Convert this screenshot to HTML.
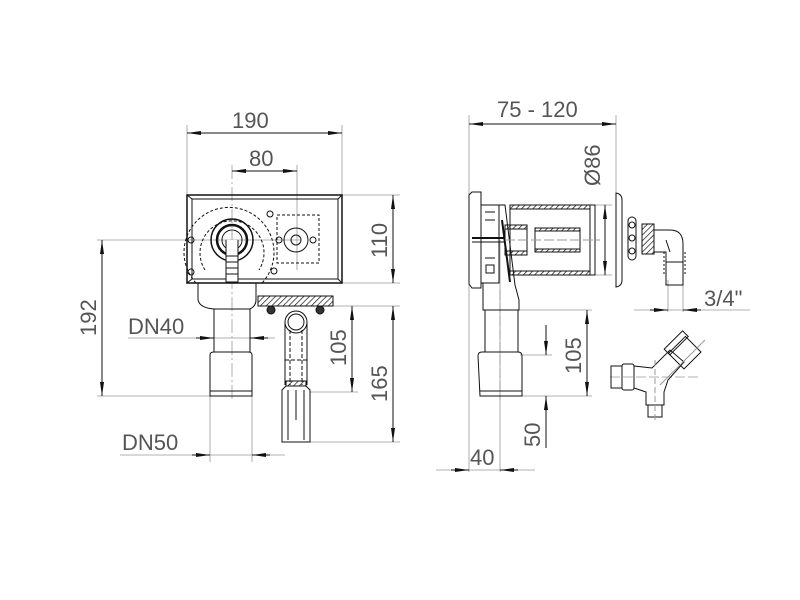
<!DOCTYPE html>
<html><head><meta charset="utf-8"><style>
html,body{margin:0;padding:0;background:#fff;}
svg{display:block;}
text{font-family:"Liberation Sans",sans-serif;fill:#555;font-size:22px;}
</style></head><body>
<svg width="800" height="600" viewBox="0 0 800 600" xmlns="http://www.w3.org/2000/svg">
<defs>
<marker id="a" viewBox="0 0 14 6" refX="14" refY="3" markerWidth="14" markerHeight="6" markerUnits="userSpaceOnUse" orient="auto-start-reverse"><path d="M0,1 L14,3 L0,5 Z" fill="#111"/></marker>
<pattern id="h" width="4" height="4" patternUnits="userSpaceOnUse" patternTransform="rotate(45)"><line x1="0" y1="0" x2="0" y2="4" stroke="#222" stroke-width="1.5"/></pattern>
</defs>
<g stroke="#999" stroke-width="0.8" fill="none">
<!-- left extension lines -->
<line x1="187" y1="125" x2="187" y2="195"/><line x1="342" y1="125" x2="342" y2="195"/>
<line x1="232" y1="165" x2="232" y2="400" stroke-dasharray="14,3,2,3"/><line x1="297" y1="165" x2="297" y2="270"/>
<line x1="342" y1="195" x2="400" y2="195"/><line x1="342" y1="283" x2="400" y2="283"/>
<line x1="97" y1="240" x2="300" y2="240"/><line x1="97" y1="396" x2="212" y2="396"/>
<line x1="128" y1="338" x2="275" y2="338"/><line x1="120" y1="455" x2="285" y2="455"/>
<line x1="210" y1="396" x2="210" y2="462"/><line x1="252" y1="396" x2="252" y2="462"/>
<line x1="333" y1="306" x2="400" y2="306"/><line x1="310" y1="392" x2="358" y2="392"/><line x1="310" y1="442" x2="400" y2="442"/>
<!-- right extension -->
<line x1="469" y1="115" x2="469" y2="472"/><line x1="616" y1="115" x2="616" y2="195"/>
<line x1="500" y1="240" x2="500" y2="472"/>
<line x1="595" y1="205" x2="612" y2="205"/><line x1="595" y1="275" x2="612" y2="275"/>
<line x1="518" y1="310" x2="592" y2="310"/><line x1="520" y1="355" x2="552" y2="355"/><line x1="521" y1="396" x2="592" y2="396"/>
<line x1="436" y1="470" x2="535" y2="470"/>
<line x1="634" y1="310" x2="750" y2="310"/><line x1="668" y1="280" x2="668" y2="312"/><line x1="683" y1="280" x2="683" y2="312"/>
<line x1="610" y1="377" x2="700" y2="377" stroke-dasharray="10,3"/>
</g>
<g stroke="#111" stroke-width="1" fill="none">
<!-- dim lines with arrows -->
<line x1="187" y1="133" x2="342" y2="133" marker-start="url(#a)" marker-end="url(#a)"/>
<line x1="232" y1="171" x2="297" y2="171" marker-start="url(#a)" marker-end="url(#a)"/>
<line x1="393" y1="195" x2="393" y2="283" marker-start="url(#a)" marker-end="url(#a)"/>
<line x1="102" y1="240" x2="102" y2="396" marker-start="url(#a)" marker-end="url(#a)"/>
<line x1="352" y1="306" x2="352" y2="392" marker-start="url(#a)" marker-end="url(#a)"/>
<line x1="393" y1="306" x2="393" y2="442" marker-start="url(#a)" marker-end="url(#a)"/>
<line x1="196" y1="338" x2="214" y2="338" marker-end="url(#a)"/><line x1="268" y1="338" x2="250" y2="338" marker-end="url(#a)"/>
<line x1="192" y1="455" x2="210" y2="455" marker-end="url(#a)"/><line x1="270" y1="455" x2="252" y2="455" marker-end="url(#a)"/>
<line x1="469" y1="124" x2="616" y2="124" marker-start="url(#a)" marker-end="url(#a)"/>
<line x1="605" y1="205" x2="605" y2="275" marker-start="url(#a)" marker-end="url(#a)"/>
<line x1="587" y1="310" x2="587" y2="396" marker-start="url(#a)" marker-end="url(#a)"/>
<line x1="546" y1="325" x2="546" y2="355" marker-end="url(#a)"/><line x1="546" y1="448" x2="546" y2="396" marker-end="url(#a)"/>
<line x1="451" y1="470" x2="469" y2="470" marker-end="url(#a)"/><line x1="518" y1="470" x2="500" y2="470" marker-end="url(#a)"/>
<line x1="650" y1="310" x2="668" y2="310" marker-end="url(#a)"/><line x1="701" y1="310" x2="683" y2="310" marker-end="url(#a)"/>

<!-- LEFT: box -->
<rect x="187" y="195" width="155" height="88" stroke-width="1.5"/>
<rect x="192" y="199" width="146" height="80"/>
<line x1="187" y1="195" x2="192" y2="199"/><line x1="342" y1="195" x2="338" y2="199"/><line x1="187" y1="283" x2="192" y2="279"/><line x1="342" y1="283" x2="338" y2="279"/>
<path d="M196,283 A45,45 0 1 1 262,283" stroke-dasharray="3,2"/>
<path d="M205,270 A32,32 0 1 1 259,270" stroke-dasharray="3,2"/>
<circle cx="232" cy="240" r="21" stroke-width="1.5"/><circle cx="232" cy="240" r="15" stroke-width="2.5"/><circle cx="232" cy="240" r="10"/>
<path d="M226,240 L226,282 L238,282 L238,240" fill="#fff"/>
<line x1="226" y1="256" x2="238" y2="256"/><line x1="226" y1="262" x2="238" y2="262"/><line x1="226" y1="268" x2="238" y2="268"/><line x1="226" y1="274" x2="238" y2="274"/>
<rect x="277" y="215" width="42" height="48" stroke-dasharray="3,2"/>
<circle cx="296" cy="240" r="12"/><circle cx="296" cy="240" r="5"/>
<circle cx="279" cy="240" r="3"/><circle cx="313" cy="240" r="3"/>
<circle cx="191" cy="240" r="3"/><circle cx="191" cy="272" r="3"/><circle cx="270" cy="214" r="3"/><circle cx="274" cy="271" r="3"/>
<!-- siphon bottom -->
<path d="M198,283 L198,300 Q200,308 214,309 L250,309 Q256,306 256,300 L256,283"/>
<rect x="214" y="309" width="36" height="43"/>
<path d="M210,355 Q210,352 214,352 L248,352 Q252,352 252,355 L252,396 L210,396 Z"/>
<line x1="210" y1="391" x2="252" y2="391"/>
<!-- side piece -->
<rect x="258" y="296" width="75" height="10" fill="url(#h)"/>
<circle cx="271" cy="310" r="4" fill="#333"/><circle cx="320" cy="310" r="4" fill="#333"/>
<circle cx="296" cy="322" r="11"/><circle cx="296" cy="322" r="8"/>
<line x1="285" y1="322" x2="285" y2="385"/><line x1="307" y1="322" x2="307" y2="385"/>
<line x1="290" y1="330" x2="290" y2="385" stroke-dasharray="4,2"/><line x1="302" y1="330" x2="302" y2="385" stroke-dasharray="4,2"/>
<line x1="285" y1="360" x2="307" y2="360" stroke-dasharray="4,2"/>
<rect x="286" y="381" width="20" height="5" fill="url(#h)"/>
<path d="M282,390 L286,386 L306,386 L310,390 L310,442 L282,442 Z"/>
<line x1="288" y1="390" x2="288" y2="440"/><line x1="304" y1="390" x2="304" y2="440"/><line x1="296" y1="390" x2="296" y2="420"/>

<!-- RIGHT: side view -->
<path d="M469,195 L472,192 L481,192 L481,288 L472,288 L469,284 Z"/>
<rect x="481" y="205" width="18" height="78"/>
<line x1="485" y1="212" x2="495" y2="212"/><line x1="485" y1="220" x2="495" y2="220"/><line x1="485" y1="258" x2="495" y2="258"/>
<rect x="486" y="265" width="8" height="8"/>
<line x1="472" y1="238" x2="505" y2="238" stroke-width="2"/><line x1="472" y1="242" x2="505" y2="242" stroke-width="1"/>
<path d="M499,205 L505,205 L515,285 L519,300 L519,310 L483,310 L483,283"/>
<path d="M502,220 L510,282" stroke-width="2"/>
<rect x="510" y="205" width="85" height="70"/>
<rect x="510" y="205" width="85" height="4" fill="url(#h)"/><rect x="510" y="271" width="85" height="4" fill="url(#h)"/>
<rect x="590" y="205" width="5" height="70" fill="#fff"/>
<rect x="505" y="225" width="22" height="30"/>
<rect x="505" y="225" width="22" height="4" fill="url(#h)"/><rect x="505" y="251" width="22" height="4" fill="url(#h)"/>
<rect x="535" y="228" width="45" height="24"/>
<rect x="535" y="228" width="45" height="3" fill="url(#h)"/><rect x="535" y="249" width="45" height="3" fill="url(#h)"/>
<line x1="505" y1="240" x2="600" y2="240" stroke="#999" stroke-dasharray="10,3"/>
<line x1="500" y1="290" x2="500" y2="400" stroke="#999" stroke-dasharray="10,3"/>
<rect x="485" y="310" width="33" height="42"/>
<path d="M478,356 Q478,352 482,352 L518,352 Q522,352 522,356 L522,396 L480,396 Z"/>
<line x1="480" y1="391" x2="522" y2="391"/>
<!-- rosette and elbow -->
<path d="M616,193 Q622,194 622,200 L622,280 Q622,286 616,287 Z"/>
<rect x="628" y="217" width="8" height="43" rx="4"/>
<circle cx="632" cy="225" r="3"/><circle cx="632" cy="238" r="3"/><circle cx="632" cy="251" r="3"/>
<rect x="642" y="224" width="12" height="30" fill="url(#h)"/>
<path d="M654,230 L670,230 Q683,230 683,244 L683,285 L666,285 L666,252 L654,252"/>
<line x1="666" y1="240" x2="670" y2="252"/>
<rect x="666" y="262" width="17" height="23"/>
<line x1="664" y1="252" x2="664" y2="275" stroke-dasharray="2,2"/><line x1="685" y1="252" x2="685" y2="275" stroke-dasharray="2,2"/>
<!-- Y valve -->
<rect x="611" y="366" width="11" height="22"/>
<rect x="622" y="364" width="12" height="26" rx="2"/>
<path d="M634,366 L652,368 L670,350 L684,362 L668,380 L664,392 L664,405 L646,405 L646,392 L634,388 Z"/>
<g transform="rotate(-45 684 352)"><rect x="672" y="342" width="24" height="22"/><rect x="672" y="336" width="26" height="8"/></g>
<rect x="648" y="405" width="14" height="12"/>
<line x1="655" y1="360" x2="655" y2="420" stroke="#999" stroke-dasharray="6,3"/>
<line x1="660" y1="385" x2="705" y2="340" stroke="#999"/>
</g>
<!-- texts -->
<text x="232" y="128">190</text>
<text x="249" y="166">80</text>
<text transform="translate(387,258) rotate(-90)">110</text>
<text transform="translate(96,336) rotate(-90)">192</text>
<text x="128" y="334">DN40</text>
<text x="122" y="450">DN50</text>
<text transform="translate(346,366) rotate(-90)">105</text>
<text transform="translate(387,402) rotate(-90)">165</text>
<text x="497" y="117">75 - 120</text>
<text transform="translate(600,186) rotate(-90)">Ø86</text>
<text transform="translate(581,374) rotate(-90)">105</text>
<text transform="translate(540,447) rotate(-90)">50</text>
<text x="470" y="465">40</text>
<text x="704" y="306">3/4"</text>
</svg>
</body></html>
